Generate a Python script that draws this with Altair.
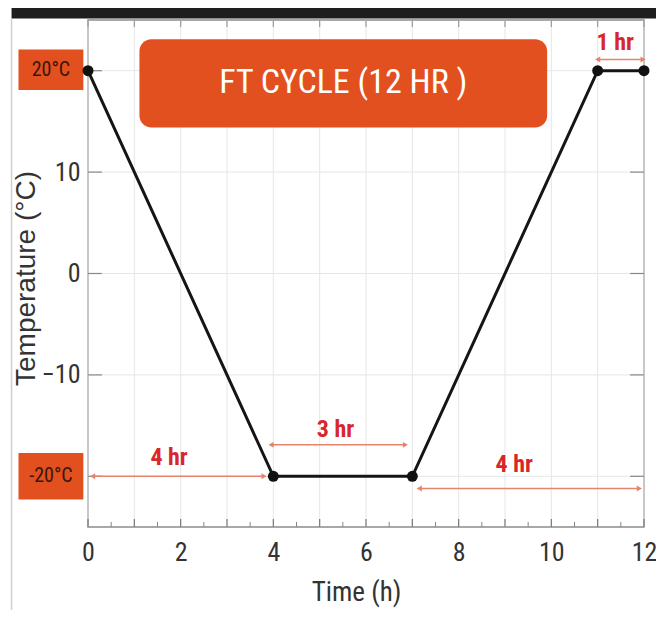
import altair as alt
import pandas as pd

# ---- data ----
time_h = [0, 4, 7, 11, 12]
temp_c = [20, -20, -20, 20, 20]

x_grid = [0, 1, 2, 3, 4, 5, 6, 7, 8, 9, 10, 11, 12]
y_grid = [-20, -10, 0, 10, 20]
x_label_values = [0, 2, 4, 6, 8, 10, 12]
y_label_values = [-10, 0, 10]
x_minor = [0.5, 1.5, 2.5, 3.5, 4.5, 5.5, 6.5, 7.5, 8.5, 9.5, 10.5, 11.5]

span_labels = ["4 hr", "3 hr", "4 hr", "1 hr"]
span_start = [0.1, 3.95, 7.15, 11.0]
span_end = [3.8, 6.85, 11.9, 11.98]
span_y = [-20.0, -16.9, -21.2, 21.1]
label_x = [1.75, 5.34, 9.2, 11.38]
label_y = [-18.2, -15.4, -18.9, 22.7]

box_text = ["20°C", "-20°C"]
box_x1 = [-1.5, -1.5]
box_x2 = [-0.1, -0.1]
box_y1 = [22.1, -17.7]
box_y2 = [18.1, -22.3]

title_text = ["FT CYCLE (12 HR )"]
title_x1 = [1.11]
title_x2 = [9.91]
title_y1 = [23.1]
title_y2 = [14.4]

FONT = "Liberation Sans Narrow, Roboto Condensed, Liberation Sans, sans-serif"
WIDE = "Liberation Sans, Arial, sans-serif"
RED_BOX = "#e3501f"
ARROW = "#e5846c"
ANNOT = "#d8262a"

xs = alt.Scale(domain=[0, 12], nice=False, zero=False)
ys = alt.Scale(domain=[-25, 25], nice=False, zero=False)

x_axis = alt.Axis(values=x_label_values, grid=False, ticks=False, domain=False,
                  labelFontSize=26, labelFont=FONT, labelColor="#333",
                  labelPadding=12, labelFlush=False,
                  title="Time (h)", titleFontSize=27,
                  titleFont=FONT, titleFontWeight="normal", titleColor="#333",
                  titlePadding=14, titleX=268)
y_axis = alt.Axis(values=y_label_values, grid=False, ticks=False, domain=False,
                  labelFontSize=26, labelFont=FONT, labelColor="#333",
                  labelPadding=8, labelFlush=False,
                  title="Temperature (°C)", titleFontSize=28,
                  titleFont=WIDE, titleFontWeight="normal", titleColor="#333",
                  titleX=-62, titleY=258, titleAngle=270,
                  titleAlign="center", titleBaseline="middle")


def X(f):
    return alt.X(f, type="quantitative", scale=xs, axis=x_axis)


def Y(f):
    return alt.Y(f, type="quantitative", scale=ys, axis=y_axis)


line_df = pd.DataFrame({"t": time_h, "temp": temp_c})
xg_df = pd.DataFrame({"x": x_grid})
yg_df = pd.DataFrame({"y": y_grid})
xmin_df = pd.DataFrame({"x": x_minor})
span_df = pd.DataFrame({"lab": span_labels, "x1": span_start, "x2": span_end,
                        "y": span_y, "lx": label_x, "ly": label_y})
box_df = pd.DataFrame({"txt": box_text, "x1": box_x1, "x2": box_x2,
                       "y1": box_y1, "y2": box_y2})
box_df["xc"] = (box_df["x1"] + box_df["x2"]) / 2
box_df["yc"] = (box_df["y1"] + box_df["y2"]) / 2
title_df = pd.DataFrame({"txt": title_text, "x1": title_x1, "x2": title_x2,
                         "y1": title_y1, "y2": title_y2})
title_df["xc"] = (title_df["x1"] + title_df["x2"]) / 2
title_df["yc"] = (title_df["y1"] + title_df["y2"]) / 2
frame_df = pd.DataFrame({"x1": [-1.65], "x2": [12.6], "y1": [25.15], "y2": [26.4],
                         "yb": [-33.5]})

xgrid = alt.Chart(xg_df).mark_rule(color="#e6e6e6", strokeWidth=1).encode(x=X("x"))
ygrid = alt.Chart(yg_df).mark_rule(color="#e6e6e6", strokeWidth=1).encode(y=Y("y"))

xg_df2 = xg_df.assign(y1=-25.0, y2=-24.2, t1=25.0, t2=24.3)
xmin_df2 = xmin_df.assign(y1=-25.0, y2=-24.5)
bticks = alt.Chart(xg_df2).mark_rule(color="#777", strokeWidth=1.2).encode(
    x=X("x"), y=Y("y1"), y2="y2")
tticks = alt.Chart(xg_df2).mark_rule(color="#999", strokeWidth=1.2).encode(
    x=X("x"), y=Y("t1"), y2="t2")
mticks = alt.Chart(xmin_df2).mark_rule(color="#888", strokeWidth=1).encode(
    x=X("x"), y=Y("y1"), y2="y2")
yg_df2 = yg_df.assign(l1=0.0, l2=0.3, r1=12.0, r2=11.7)
lticks = alt.Chart(yg_df2).mark_rule(color="#888", strokeWidth=1.2).encode(
    y=Y("y"), x=X("l1"), x2="l2")
rticks = alt.Chart(yg_df2).mark_rule(color="#888", strokeWidth=1.2).encode(
    y=Y("y"), x=X("r1"), x2="r2")

topbar = alt.Chart(frame_df).mark_rect(color="#1e1e1e").encode(
    x=X("x1"), x2="x2", y=Y("y1"), y2="y2")
leftedge = alt.Chart(frame_df).mark_rule(color="#cfcfcf", strokeWidth=1.5).encode(
    x=X("x1"), y=Y("y1"), y2="yb")

title_rect = alt.Chart(title_df).mark_rect(color=RED_BOX, cornerRadius=12).encode(
    x=X("x1"), x2="x2", y=Y("y1"), y2="y2")
title_txt = alt.Chart(title_df).mark_text(color="white", fontSize=34, font=FONT,
                                          align="center", baseline="middle").encode(
    x=X("xc"), y=Y("yc"), text="txt")

boxes = alt.Chart(box_df).mark_rect(color=RED_BOX).encode(
    x=X("x1"), x2="x2", y=Y("y1"), y2="y2")
box_txt = alt.Chart(box_df).mark_text(color="#3d150a", fontSize=20, font=FONT,
                                      align="center", baseline="middle").encode(
    x=X("xc"), y=Y("yc"), text="txt")

arrows = alt.Chart(span_df).mark_rule(color=ARROW, strokeWidth=1.5).encode(
    x=X("x1"), x2="x2", y=Y("y"))
head_l = alt.Chart(span_df).mark_point(shape="triangle-left", filled=True, size=35,
                                       color=ARROW, opacity=1).encode(x=X("x1"), y=Y("y"))
head_r = alt.Chart(span_df).mark_point(shape="triangle-right", filled=True, size=35,
                                       color=ARROW, opacity=1).encode(x=X("x2"), y=Y("y"))
annot = alt.Chart(span_df).mark_text(color=ANNOT, fontSize=24, fontWeight="bold",
                                     font=FONT, align="center", baseline="middle").encode(
    x=X("lx"), y=Y("ly"), text="lab")

line = alt.Chart(line_df).mark_line(color="#151515", strokeWidth=3).encode(
    x=X("t"), y=Y("temp"))
pts = alt.Chart(line_df).mark_point(filled=True, size=120, color="#111", opacity=1).encode(
    x=X("t"), y=Y("temp"))

chart = alt.layer(
    xgrid, ygrid, bticks, mticks, tticks, lticks, rticks, topbar, leftedge,
    title_rect, title_txt, boxes, box_txt, arrows, head_l, head_r, annot, line, pts
).properties(
    width=556, height=507,
    autosize=alt.AutoSizeParams(type="none"),
    padding={"left": 80, "top": 12, "right": 12, "bottom": 83},
    background="white",
).configure_view(stroke="#8c8c8c", strokeWidth=1.5)

chart.save("out.html", embed_options={"renderer": "svg", "actions": False})
